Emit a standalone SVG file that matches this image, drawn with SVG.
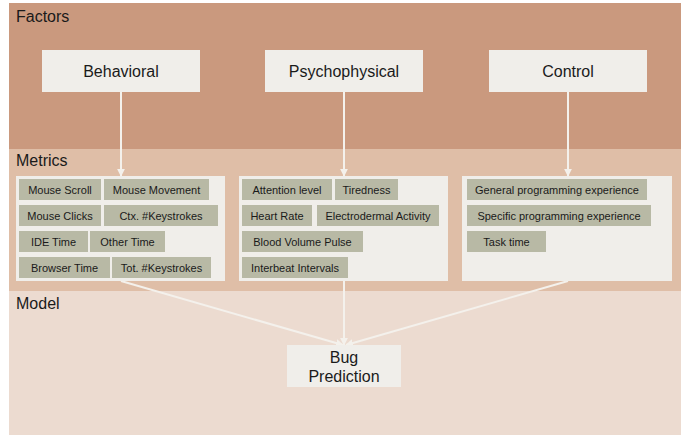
<svg xmlns="http://www.w3.org/2000/svg" width="688" height="436" viewBox="0 0 688 436">
<defs>
<style>
.band-label{font-family:"Liberation Sans",Arial,sans-serif;font-size:16px;fill:#1a1a1a}
.factor rect{fill:#F0EEEA}
.factor text{font-family:"Liberation Sans",Arial,sans-serif;font-size:16px;fill:#1a1a1a;text-anchor:middle}
.panel{fill:#F0EEEA}
.chip rect{fill:#B8B9A5}
.chip text{font-family:"Liberation Sans",Arial,sans-serif;font-size:11px;fill:#1a1a1a;text-anchor:middle}
.conn{stroke:#F4F1EC;stroke-width:2;fill:none;marker-end:url(#ah)}
</style>
<marker id="ah" viewBox="0 0 10 10" refX="9" refY="5" markerWidth="4" markerHeight="4" orient="auto" markerUnits="strokeWidth">
<path d="M0,0 L10,5 L0,10 z" fill="#F4F1EC"/>
</marker>
</defs>

<g id="bands">
<rect x="9" y="3" width="672" height="146" fill="#CA997E"/>
<rect x="9" y="149" width="672" height="142" fill="#DFBEA7"/>
<rect x="9" y="291" width="672" height="144" fill="#ECDBD0"/>
<text class="band-label" x="16" y="22">Factors</text>
<text class="band-label" x="16" y="166">Metrics</text>
<text class="band-label" x="16" y="309">Model</text>
</g>

<g id="connectors">
<line class="conn" x1="121" y1="92" x2="121" y2="176"/>
<line class="conn" x1="344" y1="92" x2="344" y2="176"/>
<line class="conn" x1="568" y1="92" x2="568" y2="176"/>
<line class="conn" x1="121" y1="281" x2="343" y2="345"/>
<line class="conn" x1="344" y1="281" x2="344" y2="345"/>
<line class="conn" x1="568" y1="281" x2="346" y2="345"/>
</g>

<g id="behavioral" class="factor"><rect x="42" y="50" width="158" height="42"/><text x="121" y="77">Behavioral</text></g>
<g id="psychophysical" class="factor"><rect x="265" y="50" width="158" height="42"/><text x="344" y="77">Psychophysical</text></g>
<g id="control" class="factor"><rect x="489" y="50" width="158" height="42"/><text x="568" y="77">Control</text></g>

<g id="behavioral-metrics">
<rect class="panel" x="16" y="176" width="209" height="105"/>
<g class="chip"><rect x="19" y="179" width="82" height="21"/><text x="60" y="194">Mouse Scroll</text></g>
<g class="chip"><rect x="104" y="179" width="105" height="21"/><text x="156.5" y="194">Mouse Movement</text></g>
<g class="chip"><rect x="19" y="205" width="82" height="21"/><text x="60" y="220">Mouse Clicks</text></g>
<g class="chip"><rect x="104" y="205" width="114" height="21"/><text x="161" y="220">Ctx. #Keystrokes</text></g>
<g class="chip"><rect x="19" y="231" width="69" height="21"/><text x="53.5" y="246">IDE Time</text></g>
<g class="chip"><rect x="90" y="231" width="75" height="21"/><text x="127.5" y="246">Other Time</text></g>
<g class="chip"><rect x="19" y="257" width="91" height="21"/><text x="64.5" y="272">Browser Time</text></g>
<g class="chip"><rect x="112" y="257" width="99" height="21"/><text x="161.5" y="272">Tot. #Keystrokes</text></g>
</g>

<g id="psychophysical-metrics">
<rect class="panel" x="239" y="176" width="209" height="105"/>
<g class="chip"><rect x="242" y="179" width="90" height="21"/><text x="287" y="194">Attention level</text></g>
<g class="chip"><rect x="335" y="179" width="63" height="21"/><text x="366.5" y="194">Tiredness</text></g>
<g class="chip"><rect x="242" y="205" width="70" height="21"/><text x="277" y="220">Heart Rate</text></g>
<g class="chip"><rect x="317" y="205" width="122" height="21"/><text x="378" y="220">Electrodermal Activity</text></g>
<g class="chip"><rect x="242" y="231" width="121" height="21"/><text x="302.5" y="246">Blood Volume Pulse</text></g>
<g class="chip"><rect x="242" y="257" width="106" height="21"/><text x="295" y="272">Interbeat Intervals</text></g>
</g>

<g id="control-metrics">
<rect class="panel" x="462" y="176" width="210" height="105"/>
<g class="chip"><rect x="467" y="179" width="180" height="21"/><text x="557" y="194">General programming experience</text></g>
<g class="chip"><rect x="467" y="205" width="184" height="21"/><text x="559" y="220">Specific programming experience</text></g>
<g class="chip"><rect x="467" y="231" width="79" height="21"/><text x="506.5" y="246">Task time</text></g>
</g>

<g id="bug-prediction" class="factor">
<rect x="287" y="345" width="114" height="42"/>
<text x="344" y="363">Bug</text>
<text x="344" y="382">Prediction</text>
</g>
</svg>
